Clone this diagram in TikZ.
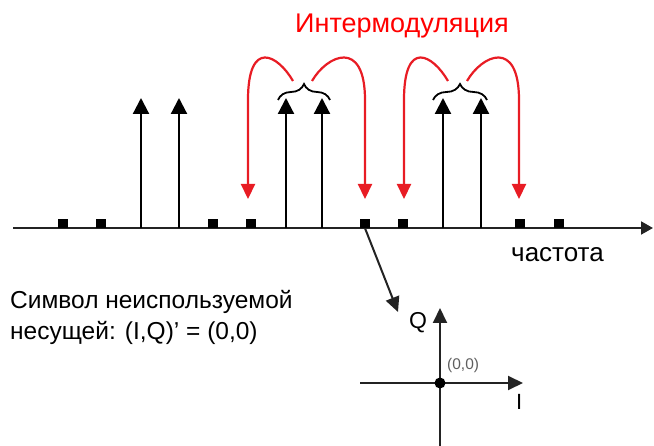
\documentclass[tikz,border=0pt]{standalone}
\usepackage{fontspec}
\setmainfont{Liberation Sans}
\usetikzlibrary{arrows.meta,decorations.pathreplacing}
\definecolor{imdred}{RGB}{232,28,36}
\definecolor{axisgray}{RGB}{35,35,35}
\definecolor{labelgray}{RGB}{95,95,95}
\tikzset{
  axisline/.style={draw=axisgray,line width=2pt,-{Triangle[width=13pt,length=12pt]}},
  stem/.style={draw=black,line width=2.2pt,-{Triangle[width=16pt,length=16pt]}},
  imd/.style={draw=imdred,line width=2.2pt,-{Triangle[width=14pt,length=15pt]}},
  pointer/.style={draw=axisgray,line width=2pt,-{Triangle[width=14pt,length=15pt]}},
  sq/.style={fill=black,draw=none,minimum width=10pt,minimum height=9pt,inner sep=0pt},
  groupbrace/.style={draw=black,line width=1.8pt,decorate,decoration={brace,amplitude=16pt}},
  txt/.style={inner sep=0pt,font=\fontsize{24.5}{31}\selectfont},
}
\begin{document}
\begin{tikzpicture}[x=1pt,y=-1pt]
\useasboundingbox (0,0) rectangle (654,446);

% frequency axis
\coordinate (fa0) at (13,228);
\coordinate (fa1) at (653,228);
\draw[axisline] (fa0) -- (fa1);

% unused carriers (squares on the axis)
\foreach \n/\x in {1/63,2/101,3/213,4/251,5/365,6/403,7/520,8/559}
  \node[sq] (s\n) at (\x,223.5) {};

% active carriers
\foreach \n/\x in {1/141,2/179,3/286,4/322,5/443,6/481}{
  \coordinate (cb\n) at (\x,228);
  \coordinate (ct\n) at (\x,98);
  \draw[stem] (cb\n) -- (ct\n);
}

% braces grouping carrier pairs
\coordinate (b1l) at (278,100); \coordinate (b1r) at (330,100);
\coordinate (b2l) at (433,100); \coordinate (b2r) at (487,100);
\draw[groupbrace] (b1l) -- (b1r);
\draw[groupbrace] (b2l) -- (b2r);

% intermodulation products
\coordinate (m1) at (293,81); \coordinate (m2) at (312,81);
\coordinate (m3) at (448,81); \coordinate (m4) at (467,81);
\coordinate (h1) at (248,199); \coordinate (h2) at (365,199);
\coordinate (h3) at (404,199); \coordinate (h4) at (519,199);
\draw[imd] (m1) .. controls (278,55) and (248,38) .. (248,100) -- (h1);
\draw[imd] (m2) .. controls (327,55) and (365,38) .. (365,100) -- (h2);
\draw[imd] (m3) .. controls (433,55) and (404,38) .. (404,100) -- (h3);
\draw[imd] (m4) .. controls (482,55) and (519,38) .. (519,100) -- (h4);

\node[txt,text=red,anchor=base,font=\fontsize{27}{30}\selectfont] (title) at (402,33) {Интермодуляция};
\node[txt,anchor=base west,font=\fontsize{26}{30}\selectfont] (freq) at (511,262) {частота};

% constellation of an unused carrier
\coordinate (pt) at (398,312);
\draw[pointer] (s5.south) -- (pt);

\coordinate (qb) at (440,446); \coordinate (qt) at (440,308);
\coordinate (il) at (360,383); \coordinate (ir) at (523,383);
\draw[pointer] (qb) -- (qt);
\draw[pointer] (il) -- (ir);
\node[circle,fill=black,minimum size=11pt,inner sep=0pt] (origin) at (440,383) {};
\node[txt,anchor=base west,font=\fontsize{23}{26}\selectfont] (qlab) at (409,329) {Q};
\node[txt,anchor=base west,font=\fontsize{22}{26}\selectfont] (ilab) at (516,410) {I};
\node[txt,anchor=base west,text=labelgray,font=\fontsize{15.5}{18}\selectfont] (olab) at (447,370) {(0,0)};

\node[txt,anchor=base west,align=left] (note) at (10,340)
  {Символ неиспользуемой\\несущей: (I,Q)’ = (0,0)};
\end{tikzpicture}
\end{document}
